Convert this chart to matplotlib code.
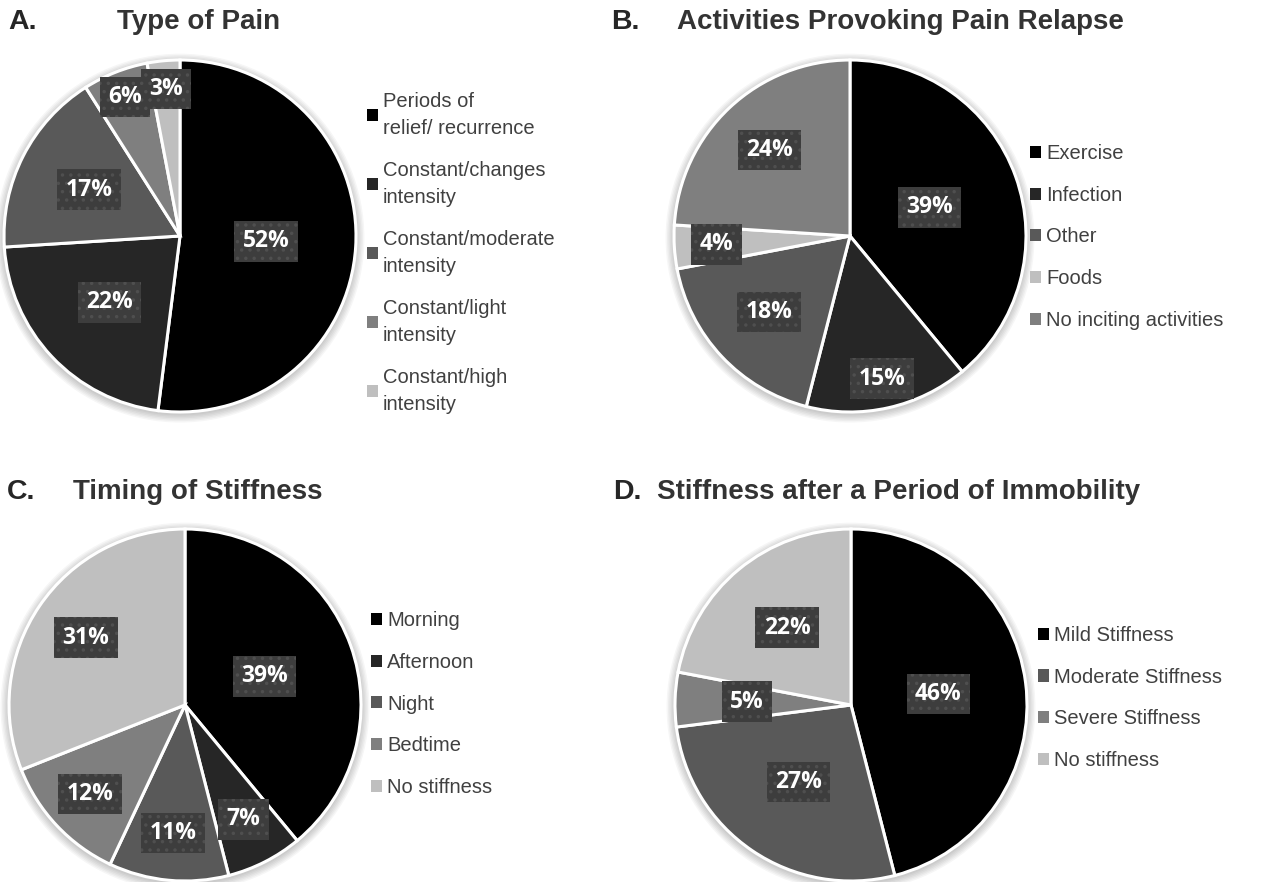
import matplotlib
matplotlib.use("Agg")
import matplotlib.pyplot as plt
import numpy as np

plt.rcParams['font.family'] = ['Liberation Sans', 'DejaVu Sans']
plt.rcParams['hatch.linewidth'] = 1.3

# ---------------- data ----------------
a_labels = ["Periods of\nrelief/ recurrence", "Constant/changes\nintensity",
            "Constant/moderate\nintensity", "Constant/light\nintensity",
            "Constant/high\nintensity"]
a_values = [52, 22, 17, 6, 3]

b_labels = ["Exercise", "Infection", "Other", "Foods", "No inciting activities"]
b_values = [39, 15, 18, 4, 24]

c_labels = ["Morning", "Afternoon", "Night", "Bedtime", "No stiffness"]
c_values = [39, 7, 11, 12, 31]

d_labels = ["Mild Stiffness", "Moderate Stiffness", "Severe Stiffness", "No stiffness"]
d_values = [46, 27, 5, 22]

titles = ["Type of Pain", "Activities Provoking Pain Relapse",
          "Timing of Stiffness", "Stiffness after a Period of Immobility"]
letters = ["A.", "B.", "C.", "D."]

# ---------------- style ----------------
BLACK, DARK, MID, GREY, LIGHT = "#000000", "#262626", "#595959", "#7f7f7f", "#bfbfbf"
a_colors = [BLACK, DARK, MID, GREY, LIGHT]
b_colors = [BLACK, DARK, MID, LIGHT, GREY]
c_colors = [BLACK, DARK, MID, GREY, LIGHT]
d_colors = [BLACK, MID, GREY, LIGHT]

# label distances (fraction of radius) per slice
a_lr = [0.49, 0.55, 0.58, 0.85, 0.84]
b_lr = [0.48, 0.83, 0.63, 0.76, 0.67]
c_lr = [0.48, 0.73, 0.73, 0.74, 0.68]
d_lr = [0.50, 0.53, 0.59, 0.57]

W, H = 1266, 882
fig = plt.figure(figsize=(W / 100, H / 100), dpi=100)
fig.patch.set_facecolor("white")

R = 176  # radius in px

panels = [
    dict(vals=a_values, labs=a_labels, cols=a_colors, lr=a_lr, c=(180, 236),
         leg=(367, 253), title_xy=(117, 22), letter_xy=(8, 22)),
    dict(vals=b_values, labs=b_labels, cols=b_colors, lr=b_lr, c=(850, 236),
         leg=(1030, 237), title_xy=(677, 22), letter_xy=(611, 22)),
    dict(vals=c_values, labs=c_labels, cols=c_colors, lr=c_lr, c=(185, 705),
         leg=(371, 704), title_xy=(73, 492), letter_xy=(7, 492)),
    dict(vals=d_values, labs=d_labels, cols=d_colors, lr=d_lr, c=(851, 705),
         leg=(1038, 698), title_xy=(657, 492), letter_xy=(613, 492)),
]

for i, p in enumerate(panels):
    cx, cy = p["c"]
    ax = fig.add_axes([(cx - R) / W, (H - cy - R) / H, 2 * R / W, 2 * R / H])
    # soft shadow
    for k in range(6):
        sh = plt.Circle((0.0, -0.012), 1.0 + 0.008 * (k + 1), color="black",
                        alpha=0.035, lw=0, zorder=0, clip_on=False)
        ax.add_patch(sh)
    wedges, _ = ax.pie(p["vals"], colors=p["cols"], startangle=90, counterclock=False,
                       radius=1.0, wedgeprops=dict(edgecolor="white", linewidth=2.2))
    ax.set_xlim(-1, 1)
    ax.set_ylim(-1, 1)
    ax.set_aspect("equal")
    ax.axis("off")
    for w in wedges:
        w.set_zorder(2)
        w.set_clip_on(False)
    total = sum(p["vals"])
    for w, v, lr in zip(wedges, p["vals"], p["lr"]):
        ang = np.deg2rad((w.theta1 + w.theta2) / 2)
        x, y = lr * np.cos(ang), lr * np.sin(ang)
        ax.text(x, y, f"{round(100 * v / total)}%", ha="center", va="center",
                color="white", fontsize=16.5, fontweight="bold",
                family=["Open Sans", "DejaVu Sans"], zorder=5, clip_on=False,
                bbox=dict(boxstyle="square,pad=0.36", facecolor="#3d3d3d",
                          edgecolor="#4f4f4f", linewidth=0, hatch=".."))
    lx, ly = p["leg"]
    leg = fig.legend(wedges, p["labs"], loc="center left",
                     bbox_to_anchor=(lx / W, 1 - ly / H), frameon=False,
                     fontsize=14.5, labelcolor="#404040", handlelength=0.55,
                     handleheight=0.55, handletextpad=0.25, labelspacing=1.13,
                     borderpad=0, borderaxespad=0)
    for t in leg.get_texts():
        t.set_linespacing(1.55)
    for h in leg.legend_handles:
        h.set_edgecolor("none")
    lxl, lyl = p["letter_xy"]
    fig.text(lxl / W, 1 - lyl / H, letters[i], fontsize=20.5, fontweight="bold",
             color="#262626", ha="left", va="center")
    tx, ty = p["title_xy"]
    fig.text(tx / W, 1 - ty / H, titles[i], fontsize=20, fontweight="bold",
             color="#333333", ha="left", va="center")

fig.savefig("out.png", dpi=100, facecolor="white")
